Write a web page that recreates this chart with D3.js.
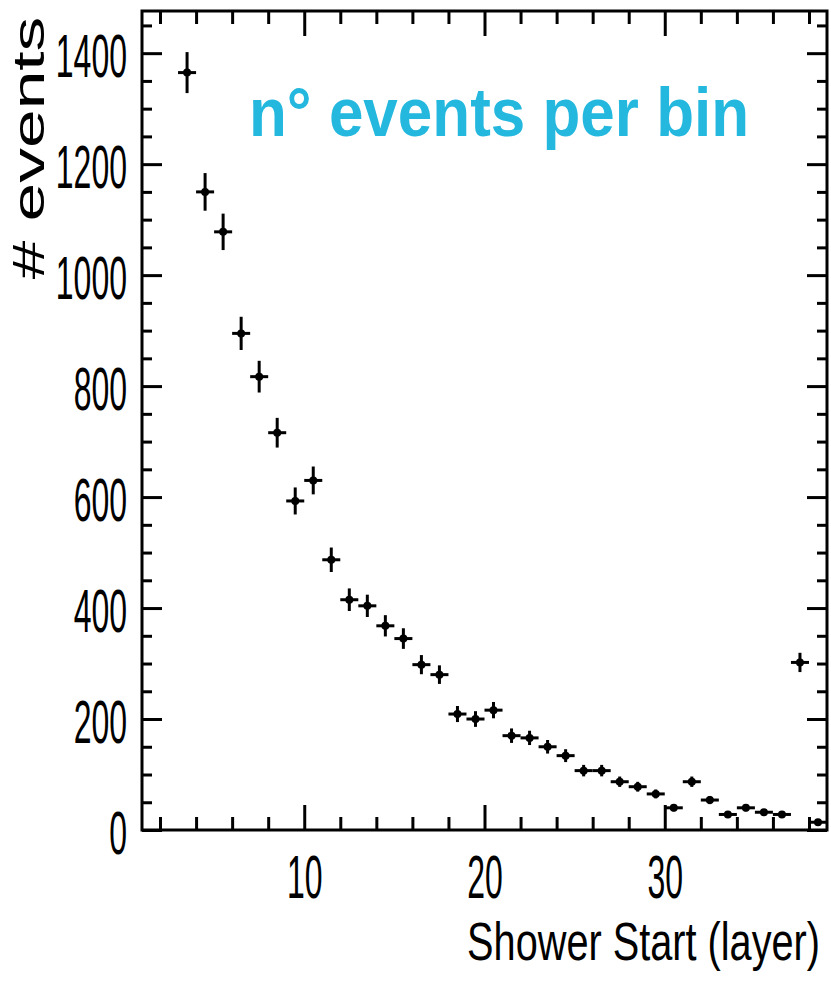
<!DOCTYPE html>
<html>
<head>
<meta charset="utf-8">
<script src="https://cdn.jsdelivr.net/npm/d3@7/dist/d3.min.js"></script>
<style>
  html, body { margin: 0; padding: 0; background: #ffffff; }
  svg { display: block; }
  text { font-family: "Liberation Sans", Arial, Helvetica, sans-serif; }
</style>
</head>
<body>
<script>
// Shower start layer histogram: bin centres and entries per bin
const layers = [3.5, 4.5, 5.5, 6.5, 7.5, 8.5, 9.5, 10.5, 11.5, 12.5, 13.5, 14.5,
                15.5, 16.5, 17.5, 18.5, 19.5, 20.5, 21.5, 22.5, 23.5, 24.5, 25.5, 26.5,
                27.5, 28.5, 29.5, 30.5, 31.5, 32.5, 33.5, 34.5, 35.5, 36.5, 37.5, 38.5];
const counts = [1365, 1150, 1078, 895, 817, 716, 593, 630, 487, 415, 404, 368,
                345, 298, 280, 209, 200, 216, 170, 166, 150, 134, 107, 107,
                87, 78, 65, 40, 87, 54, 28, 40, 32, 28, 302, 14];
const binWidth = 1;

// Axis ticks
const xMajorTicks = [10, 20, 30];
const xMinorTicks = [2, 4, 6, 8, 12, 14, 16, 18, 22, 24, 26, 28, 32, 34, 36, 38];
const yMajorTicks = [0, 200, 400, 600, 800, 1000, 1200, 1400];
const yMinorTicks = [50, 100, 150, 250, 300, 350, 450, 500, 550, 650, 700, 750,
                     850, 900, 950, 1050, 1100, 1150, 1250, 1300, 1350, 1450];

const xTitle = "Shower Start (layer)";
const yTitle = "# events";
const noteText = "n° events per bin";

const W = 831, H = 988;
const plotL = 142, plotR = 827, plotT = 11, plotB = 830;

const svg = d3.select("body").append("svg")
  .attr("width", W).attr("height", H);

svg.append("rect").attr("width", W).attr("height", H).attr("fill", "#ffffff");

const x = d3.scaleLinear().domain([1, 39]).range([plotL, plotR]);
const y = d3.scaleLinear().domain([0, 1476]).range([plotB, plotT]);

const axisStroke = 3;

function styleAxis(g) {
  g.select(".domain").remove();
  g.selectAll(".tick line").attr("stroke", "#000").attr("stroke-width", axisStroke);
}

// Minor ticks on all four sides (pointing inwards)
svg.append("g").attr("transform", `translate(0,${plotB})`)
  .call(d3.axisBottom(x).tickValues(xMinorTicks).tickSize(-13).tickFormat(""))
  .call(styleAxis);
svg.append("g").attr("transform", `translate(0,${plotT})`)
  .call(d3.axisTop(x).tickValues(xMinorTicks).tickSize(-13).tickFormat(""))
  .call(styleAxis);
svg.append("g").attr("transform", `translate(${plotL},0)`)
  .call(d3.axisLeft(y).tickValues(yMinorTicks).tickSize(-10).tickFormat(""))
  .call(styleAxis);
svg.append("g").attr("transform", `translate(${plotR},0)`)
  .call(d3.axisRight(y).tickValues(yMinorTicks).tickSize(-10).tickFormat(""))
  .call(styleAxis);

// Major ticks with labels on bottom and left
const gxb = svg.append("g").attr("transform", `translate(0,${plotB})`)
  .call(d3.axisBottom(x).tickValues(xMajorTicks).tickSize(-25).tickFormat(d3.format("d")))
  .call(styleAxis);
gxb.selectAll(".tick text")
  .attr("y", 0).attr("dy", null)
  .attr("fill", "#000")
  .attr("font-size", 32)
  .attr("text-anchor", "middle")
  .attr("transform", "translate(0,68) scale(1,1.88)");

const gyl = svg.append("g").attr("transform", `translate(${plotL},0)`)
  .call(d3.axisLeft(y).tickValues(yMajorTicks).tickSize(-20).tickFormat(d3.format("d")))
  .call(styleAxis);
gyl.selectAll(".tick text")
  .attr("x", -15).attr("y", 0).attr("dy", null)
  .attr("fill", "#000")
  .attr("font-size", 32)
  .attr("text-anchor", "end")
  .attr("transform", "translate(0,23) scale(1,1.88)");

svg.append("g").attr("transform", `translate(0,${plotT})`)
  .call(d3.axisTop(x).tickValues(xMajorTicks).tickSize(-25).tickFormat(""))
  .call(styleAxis);
svg.append("g").attr("transform", `translate(${plotR},0)`)
  .call(d3.axisRight(y).tickValues(yMajorTicks).tickSize(-20).tickFormat(""))
  .call(styleAxis);

// Frame
svg.append("rect")
  .attr("x", plotL).attr("y", plotT)
  .attr("width", plotR - plotL).attr("height", plotB - plotT)
  .attr("fill", "none").attr("stroke", "#000").attr("stroke-width", axisStroke);

// Data points with Poisson error bars
const pts = layers.map((c, i) => ({ c, n: counts[i], e: Math.sqrt(counts[i]) }));
const gp = svg.append("g");
const p = gp.selectAll("g.pt").data(pts).join("g").attr("class", "pt");
p.append("line")
  .attr("x1", d => x(d.c - binWidth / 2)).attr("x2", d => x(d.c + binWidth / 2))
  .attr("y1", d => y(d.n)).attr("y2", d => y(d.n))
  .attr("stroke", "#000").attr("stroke-width", 3);
p.append("line")
  .attr("x1", d => x(d.c)).attr("x2", d => x(d.c))
  .attr("y1", d => y(Math.max(0, d.n - d.e))).attr("y2", d => y(d.n + d.e))
  .attr("stroke", "#000").attr("stroke-width", 3);
p.append("circle")
  .attr("cx", d => x(d.c)).attr("cy", d => y(d.n))
  .attr("r", 4).attr("fill", "#000");

// Axis titles
svg.append("text")
  .attr("x", 0).attr("y", 0)
  .attr("text-anchor", "end")
  .attr("font-size", 39.7)
  .attr("fill", "#000")
  .attr("transform", "translate(820,960) scale(1,1.34)")
  .text(xTitle);

svg.append("text")
  .attr("x", 0).attr("y", 0)
  .attr("text-anchor", "middle")
  .attr("font-size", 44)
  .attr("fill", "#000")
  .attr("transform", "translate(44,148) rotate(-90) scale(1.58,1)")
  .text(yTitle);

// Annotation
svg.append("text")
  .attr("x", 0).attr("y", 0)
  .attr("font-size", 62)
  .attr("font-weight", "bold")
  .attr("fill", "#24b8df")
  .attr("transform", "translate(249,136) scale(1,1.12)")
  .text(noteText);
</script>
</body>
</html>
